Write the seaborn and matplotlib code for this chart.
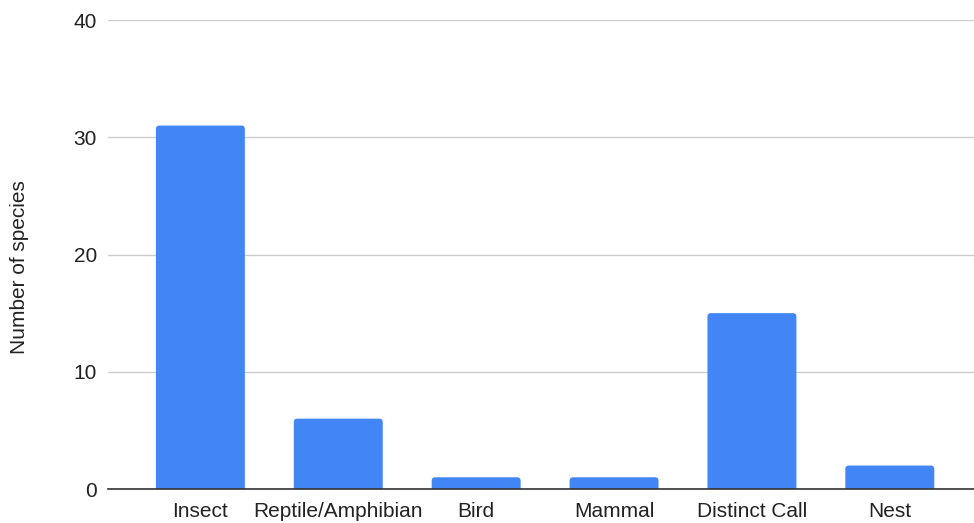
import matplotlib
matplotlib.use("Agg")
import matplotlib.pyplot as plt
from matplotlib.patches import FancyBboxPatch
import seaborn as sns
import pandas as pd

categories = ["Insect", "Reptile/Amphibian", "Bird", "Mammal", "Distinct Call", "Nest"]
species_counts = [31, 6, 1, 1, 15, 2]
y_ticks = [0, 10, 20, 30, 40]

df = pd.DataFrame({"category": categories, "count": species_counts})

sns.set_theme(style="white")
plt.rcParams["font.family"] = ["Liberation Sans", "DejaVu Sans"]

fig = plt.figure(figsize=(9.74, 5.23), dpi=100)
ax = fig.add_axes([0.1109, 0.065, 0.889, 0.8967])

sns.barplot(data=df, x="category", y="count", color="#4285F4", saturation=1,
            width=0.645, ax=ax, zorder=3)

ax.set_ylim(0, 40)
ax.set_xlim(-0.67, 5.61)

# Give the bars slightly rounded top corners
fig.canvas.draw()
bbox = ax.get_window_extent()
x_per_px = (ax.get_xlim()[1] - ax.get_xlim()[0]) / bbox.width
y_per_px = (ax.get_ylim()[1] - ax.get_ylim()[0]) / bbox.height
radius_px = 3.5
for bar in list(ax.patches):
    x0, w, h = bar.get_x(), bar.get_width(), bar.get_height()
    drop = radius_px * y_per_px
    rounded = FancyBboxPatch(
        (x0, -drop), w, h + drop,
        boxstyle=f"round,pad=0,rounding_size={radius_px * x_per_px}",
        mutation_aspect=y_per_px / x_per_px,
        facecolor="#4285F4", edgecolor="none", zorder=3,
    )
    bar.remove()
    ax.add_patch(rounded)

ax.set_yticks(y_ticks)
ax.yaxis.grid(True, color="#cccccc", linewidth=1, zorder=0)
ax.set_axisbelow(True)

for side in ["top", "right", "left"]:
    ax.spines[side].set_visible(False)
ax.spines["bottom"].set_color("#333333")
ax.spines["bottom"].set_linewidth(1.2)
ax.spines["bottom"].set_zorder(4)

ax.tick_params(axis="y", length=0, pad=8, labelsize=15, labelcolor="#222222")
ax.tick_params(axis="x", length=0, pad=9.5, labelsize=15, labelcolor="#222222")

ax.set_xlabel("")
ax.set_ylabel("Number of species", fontsize=15, color="#222222")
ax.yaxis.set_label_coords(-0.091, 0.474)

fig.savefig("out.png", dpi=100)
